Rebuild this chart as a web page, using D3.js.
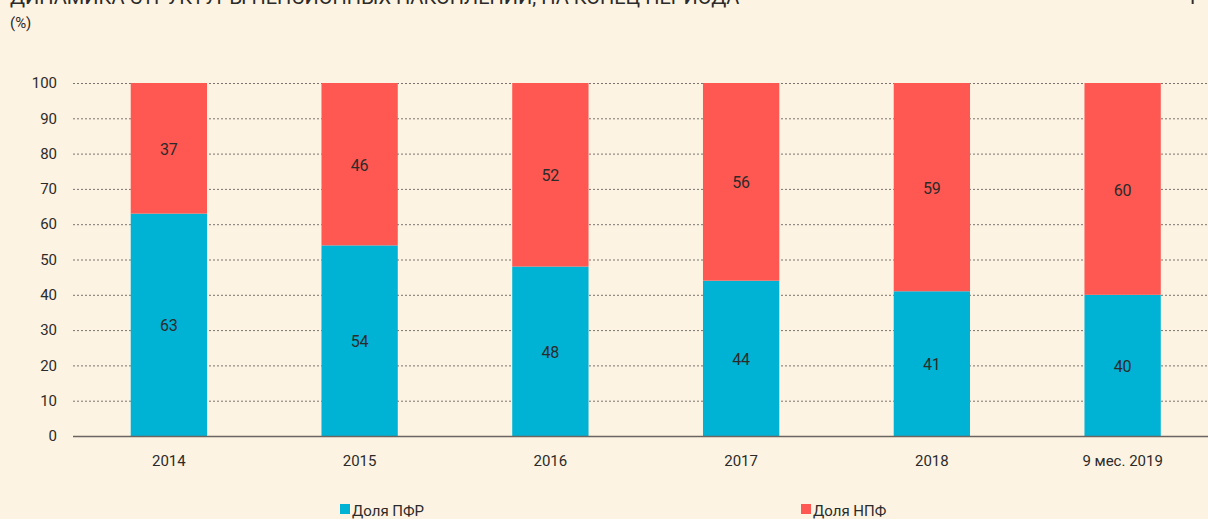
<!DOCTYPE html>
<html>
<head>
<meta charset="utf-8">
<script src="https://cdn.jsdelivr.net/npm/d3@7"></script>
<style>
  body { margin: 0; background: #fdf3e2; overflow: hidden; }
  text { font-family: Roboto, "Open Sans", sans-serif; fill: #2b2b2b; }
</style>
</head>
<body>
<div id="chart"></div>
<script>
// ===== data =====
let years = ["2014", "2015", "2016", "2017", "2018", "9 мес. 2019"];
let pfr = [63, 54, 48, 44, 41, 40];
let npf = [37, 46, 52, 56, 59, 60];
let yTicks = [0, 10, 20, 30, 40, 50, 60, 70, 80, 90, 100];
let seriesNames = ["Доля ПФР", "Доля НПФ"];
let colors = ["#00b2d4", "#ff5751"];

let W = 1208, H = 519;

let svg = d3.select("#chart").append("svg")
    .attr("width", W)
    .attr("height", H);

svg.append("rect").attr("width", W).attr("height", H).attr("fill", "#fdf3e2");

// title, cut off at the top edge as in the source
svg.append("text")
    .attr("x", 10).attr("y", 4)
    .style("font-size", "20px")
    .text("ДИНАМИКА СТРУКТУРЫ ПЕНСИОННЫХ НАКОПЛЕНИЙ, НА КОНЕЦ ПЕРИОДА");
svg.append("text")
    .attr("x", 1190).attr("y", 4)
    .style("font-size", "20px")
    .text("Р");
svg.append("text")
    .attr("x", 10).attr("y", 28)
    .style("font-size", "15px")
    .text("(%)");

let x = d3.scaleBand().domain(years).range([73.5, 1218]).paddingInner(0.6).paddingOuter(0.3),
    y = d3.scaleLinear().domain([0, 100]).range([436, 83]);

// grid
svg.append("g").selectAll("line")
  .data(yTicks.filter(d => d > 0))
  .enter().append("line")
    .attr("x1", 73).attr("x2", W)
    .attr("y1", d => y(d) + 0.5).attr("y2", d => y(d) + 0.5)
    .attr("stroke", "#7a7470")
    .attr("stroke-width", 1)
    .attr("stroke-dasharray", "2,2");

// y labels
svg.append("g").selectAll("text")
  .data(yTicks)
  .enter().append("text")
    .attr("x", 57).attr("y", d => y(d))
    .attr("dy", "0.35em")
    .attr("text-anchor", "end")
    .style("font-size", "15px")
    .text(d => d);

// stacked bars
let rows = years.map((yr, i) => ({year: yr, pfr: pfr[i], npf: npf[i]}));
let stack = d3.stack().keys(["pfr", "npf"])(rows);

let layers = svg.append("g").selectAll("g")
  .data(stack)
  .enter().append("g")
    .attr("fill", (d, i) => colors[i]);

layers.selectAll("rect")
  .data(d => d)
  .enter().append("rect")
    .attr("x", d => x(d.data.year))
    .attr("width", x.bandwidth())
    .attr("y", d => y(d[1]))
    .attr("height", d => y(d[0]) - y(d[1]));

layers.selectAll("text")
  .data(d => d.map(s => ({s: s, v: s[1] - s[0]})))
  .enter().append("text")
    .attr("x", d => x(d.s.data.year) + x.bandwidth() / 2)
    .attr("y", d => (y(d.s[0]) + y(d.s[1])) / 2 + 1)
    .attr("dy", "0.35em")
    .attr("text-anchor", "middle")
    .style("font-size", "16px")
    .text(d => d.v);

// baseline
svg.append("line")
    .attr("x1", 73).attr("x2", W)
    .attr("y1", 436.5).attr("y2", 436.5)
    .attr("stroke", "#6b6561")
    .attr("stroke-width", 1.5);

// x labels
svg.append("g").selectAll("text")
  .data(years)
  .enter().append("text")
    .attr("x", d => x(d) + x.bandwidth() / 2)
    .attr("y", 466)
    .attr("text-anchor", "middle")
    .style("font-size", "15px")
    .text(d => d);

// legend
let legendX = [340, 801];
let legend = svg.append("g").selectAll("g")
  .data(seriesNames)
  .enter().append("g")
    .attr("transform", (d, i) => "translate(" + legendX[i] + ",504)");
legend.append("rect")
    .attr("width", 10).attr("height", 10)
    .attr("fill", (d, i) => colors[i]);
legend.append("text")
    .attr("x", 12).attr("y", 12)
    .style("font-size", "15px")
    .text(d => d);
</script>
</body>
</html>
